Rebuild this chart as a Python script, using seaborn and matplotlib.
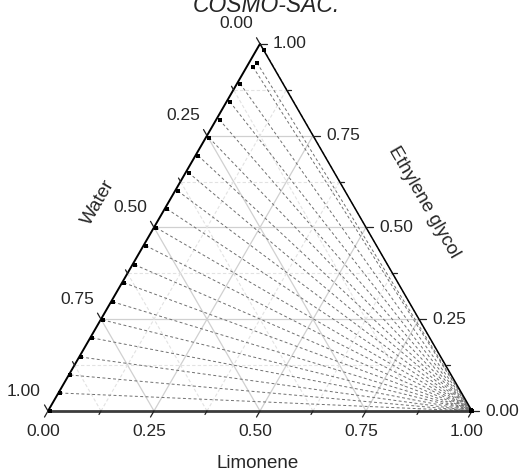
import numpy as np
import pandas as pd
import matplotlib
matplotlib.use("Agg")
import matplotlib.pyplot as plt
import seaborn as sns

# ---------------- data (mole fractions) ----------------
# water-rich phase: ethylene glycol and limonene fractions
aq_eg = [0.000, 0.049, 0.098, 0.147, 0.199, 0.248, 0.297, 0.349, 0.398, 0.450, 0.499,
         0.550, 0.599, 0.649, 0.695, 0.744, 0.793, 0.842, 0.891, 0.937, 0.948, 0.984]
aq_lim = [0.005, 0.004, 0.004, 0.004, 0.005, 0.005, 0.005, 0.005, 0.006, 0.006, 0.006,
          0.006, 0.007, 0.007, 0.007, 0.008, 0.008, 0.008, 0.008, 0.015, 0.019, 0.017]
# limonene-rich phase
org_eg = [0.000, 0.000, 0.000, 0.000, 0.000, 0.001, 0.001, 0.001, 0.001, 0.001, 0.001,
          0.001, 0.001, 0.001, 0.002, 0.002, 0.002, 0.002, 0.002, 0.002, 0.002, 0.002]
org_lim = [0.999, 0.999, 0.999, 0.999, 0.999, 0.998, 0.998, 0.998, 0.998, 0.998, 0.998,
           0.998, 0.998, 0.998, 0.997, 0.997, 0.997, 0.997, 0.997, 0.997, 0.997, 0.997]

major_ticks = [0.00, 0.25, 0.50, 0.75, 1.00]
minor_ticks = [0.125, 0.375, 0.625, 0.875]
tick_labels = ["0.00", "0.25", "0.50", "0.75", "1.00"]
title = "COSMO-SAC."
bottom_title = "Limonene"
right_title = "Ethylene glycol"
left_title = "Water"

S3 = np.sqrt(3) / 2.0


def tern(lim, eg):
    lim = np.asarray(lim, float)
    eg = np.asarray(eg, float)
    return lim + eg / 2.0, eg * S3


def px(xp, yp):
    # pixel position in the 523x474 canvas -> data coords
    return (xp - 48) / 424.0, (411 - yp) / 424.0


sns.set_style("white")
plt.rcParams["font.family"] = ["Liberation Sans", "DejaVu Sans"]

fig = plt.figure(figsize=(5.23, 4.74), dpi=100)
ax = fig.add_axes([0, 0, 1, 1])
ax.axis("off")

# ---------------- grid ----------------
for v in major_ticks[1:-1] + minor_ticks:
    major = v in major_ticks
    kw = dict(color="#d0d0d0", lw=0.9, ls="-", zorder=1) if major else \
        dict(color="#e2e2e2", lw=0.8, ls=(0, (3, 2)), zorder=1)
    x, y = tern([0, 1 - v], [v, v]); ax.plot(x, y, **kw)
    x, y = tern([v, v], [0, 1 - v]); ax.plot(x, y, **kw)
    x, y = tern([1 - v, 0], [0, 1 - v]); ax.plot(x, y, **kw)

# ---------------- tie lines ----------------
rows = []
for i in range(len(aq_eg)):
    x1, y1 = tern(aq_lim[i], aq_eg[i])
    x2, y2 = tern(org_lim[i], org_eg[i])
    rows.append({"x": float(x1), "y": float(y1), "tie": i})
    rows.append({"x": float(x2), "y": float(y2), "tie": i})
ties = pd.DataFrame(rows)
sns.lineplot(data=ties, x="x", y="y", units="tie", estimator=None, sort=False,
             color="#707070", lw=0.7, linestyle=(0, (3, 2.5)), ax=ax, legend=False,
             zorder=2)

# ---------------- triangle edges ----------------
x, y = tern([0, 1], [0, 0]); ax.plot(x, y, color="#3c3c3c", lw=2.0, zorder=3,
                                     solid_capstyle="butt")
x, y = tern([0, 0], [0, 1]); ax.plot(x, y, color="black", lw=1.4, zorder=3)
x, y = tern([1, 0], [0, 1]); ax.plot(x, y, color="black", lw=1.1, zorder=3)

# ---------------- ticks ----------------
d_bot = np.array([-0.5, -S3])
d_right = np.array([1.0, 0.0])
d_left = np.array([-0.5, S3])
for v in major_ticks + minor_ticks:
    L = (7 if v in major_ticks else 4) / 424.0
    p = np.array(tern(v, 0)); q = p + d_bot * L
    ax.plot([p[0], q[0]], [p[1], q[1]], color="#222222", lw=0.9, zorder=3)
    p = np.array(tern(1 - v, v)); q = p + d_right * L
    ax.plot([p[0], q[0]], [p[1], q[1]], color="#222222", lw=0.9, zorder=3)
    p = np.array(tern(0, 1 - v)); q = p + d_left * L
    ax.plot([p[0], q[0]], [p[1], q[1]], color="#222222", lw=0.9, zorder=3)

# tick labels
for v, lab in zip(major_ticks, tick_labels):
    bx, by = tern(v, 0)
    ax.text(bx - 5 / 424.0, by - 21 / 424.0, lab, ha="center", va="center", fontsize=12.5)
    rx, ry = tern(1 - v, v)
    ax.text(rx + 13 / 424.0, ry, lab, ha="left", va="center", fontsize=12.5)
    lx, ly = tern(0, 1 - v)
    ax.text(lx - 24 / 424.0, ly + 20 / 424.0, lab, ha="center", va="center", fontsize=12.5)

# axis titles
ax.text(*px(258, 464), bottom_title, ha="center", va="center", fontsize=13.5)
ax.text(*px(98, 202), left_title, ha="center", va="center", fontsize=13.5,
        rotation=60, rotation_mode="anchor")
ax.text(*px(424, 202), right_title, ha="center", va="center", fontsize=13.5,
        rotation=-60, rotation_mode="anchor")
ax.text(*px(266, 12), title, ha="center", va="baseline", fontsize=16.5,
        fontstyle="italic")

# ---------------- points ----------------
ax_x, ax_y = tern(aq_lim, aq_eg)
or_x, or_y = tern(org_lim, org_eg)
pts = pd.DataFrame({"x": np.concatenate([ax_x, or_x]), "y": np.concatenate([ax_y, or_y])})
sns.scatterplot(data=pts, x="x", y="y", marker="s", s=12, color="black",
                linewidth=0, ax=ax, zorder=5, legend=False)
ax.set_xlabel(""); ax.set_ylabel("")
ax.set_xlim(-48 / 424.0, 475 / 424.0)
ax.set_ylim(-63 / 424.0, 411 / 424.0)

fig.savefig("out.png", dpi=100)
